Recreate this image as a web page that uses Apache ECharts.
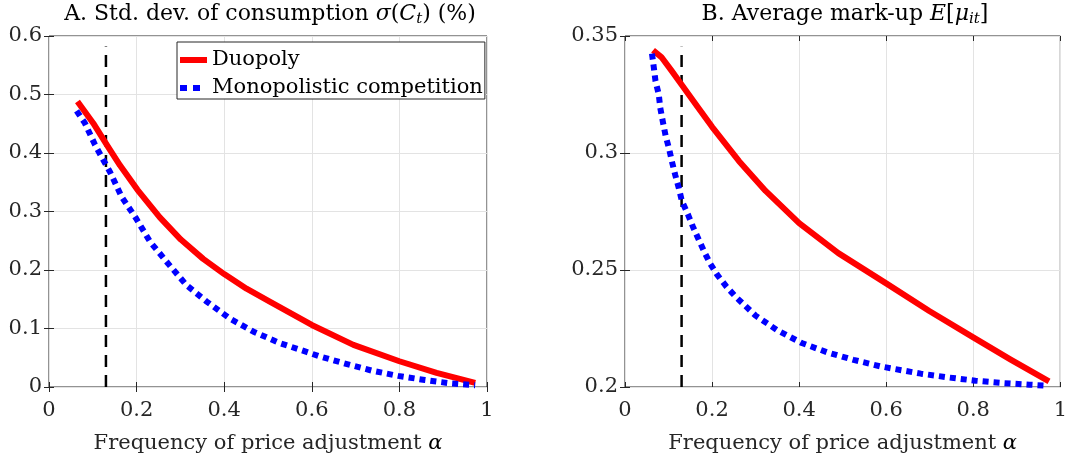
<!DOCTYPE html>
<html>
<head>
<meta charset="utf-8">
<script src="https://cdn.jsdelivr.net/npm/echarts@6/dist/echarts.min.js"></script>
<style>html,body{margin:0;padding:0;background:#fff}#c{width:1070px;height:460px}</style>
</head>
<body>
<div id="c"></div>
<script>
// ---- Data ----
const alphaDuoA = [0.065, 0.101, 0.132, 0.162, 0.202, 0.253, 0.301, 0.352, 0.4, 0.451, 0.504, 0.6, 0.695, 0.8, 0.885, 0.973];
const duopolyStd = [0.488, 0.451, 0.414, 0.379, 0.337, 0.290, 0.252, 0.219, 0.193, 0.168, 0.146, 0.106, 0.072, 0.044, 0.024, 0.007];
const alphaMonoA = [0.063, 0.082, 0.105, 0.124, 0.139, 0.166, 0.199, 0.231, 0.272, 0.314, 0.36, 0.413, 0.466, 0.527, 0.588, 0.615, 0.676, 0.737, 0.797, 0.858, 0.919, 0.973];
const monoStd = [0.472, 0.451, 0.414, 0.388, 0.368, 0.325, 0.288, 0.248, 0.211, 0.174, 0.146, 0.117, 0.095, 0.075, 0.060, 0.053, 0.040, 0.028, 0.019, 0.012, 0.006, 0.003];

const alphaDuoB = [0.0645, 0.0835, 0.106, 0.131, 0.167, 0.2, 0.262, 0.323, 0.4, 0.49, 0.6, 0.699, 0.8, 0.885, 0.974];
const duopolyMarkup = [0.3439, 0.3410, 0.3354, 0.3290, 0.3197, 0.3112, 0.2965, 0.2838, 0.2700, 0.2572, 0.2443, 0.2325, 0.2212, 0.2118, 0.2024];
const alphaMonoB = [0.062, 0.066, 0.070, 0.0775, 0.081, 0.087, 0.0934, 0.101, 0.108, 0.1154, 0.1238, 0.1306, 0.1443, 0.156, 0.169, 0.182, 0.196, 0.212, 0.233, 0.254, 0.300, 0.351, 0.406, 0.465, 0.525, 0.587, 0.619, 0.680, 0.742, 0.805, 0.867, 0.929, 0.962];
const monoMarkup = [0.3425, 0.3368, 0.3308, 0.3251, 0.3193, 0.3133, 0.3073, 0.3020, 0.2962, 0.2906, 0.2849, 0.2795, 0.2739, 0.2685, 0.2631, 0.2578, 0.2526, 0.2479, 0.2429, 0.2386, 0.2305, 0.2241, 0.2188, 0.2148, 0.2116, 0.2088, 0.2077, 0.2057, 0.2041, 0.2027, 0.2017, 0.2010, 0.2006];

const calibAlpha = 0.13;          // vertical dashed line position
const vlineA = [0, 0.582];
const vlineB = [0.2, 0.3454];

const xTicks = [0, 0.2, 0.4, 0.6, 0.8, 1];
const yTicksA = [0, 0.1, 0.2, 0.3, 0.4, 0.5, 0.6];
const yTicksB = [0.2, 0.25, 0.3, 0.35];

const seriesNames = ['Duopoly', 'Monopolistic competition'];
const titleA = 'A. Std. dev. of consumption {i|σ}({i|C}{sub|t}) (%)';
const titleB = 'B. Average mark-up {i|E}[{i|μ}{sub|it}]';
const xName = 'Frequency of price adjustment {i|α}';

// ---- Chart ----
const FONT = 'DejaVu Serif';
const FS = 21;
const TFS = 22;
const TXT = '#262626';
const zip = (xs, ys) => xs.map((x, i) => [x, ys[i]]);
const fmt = v => String(+v.toFixed(2));
const rich = (size) => ({
  i: {fontStyle: 'italic', fontFamily: FONT, fontSize: size, color: '#000'},
  sub: {fontStyle: 'italic', fontFamily: FONT, fontSize: Math.round(size * 0.7), color: '#000', padding: [Math.round(size*0.45), 0, 0, 0]}
});

const grids = [
  {left: 49, right: 583, top: 36, bottom: 73},
  {left: 625, right: 6, top: 36, bottom: 73}
];
grids.forEach(g => { g.show = true; g.borderColor = TXT; g.borderWidth = 1; g.backgroundColor = '#fff'; });

function xAx(gi, pos, main) {
  return {
    type: 'value', gridIndex: gi, position: pos, min: xTicks[0], max: xTicks[xTicks.length - 1], interval: xTicks[1] - xTicks[0],
    axisLine: {show: false},
    axisTick: {show: true, inside: true, length: 5, lineStyle: {color: TXT}},
    axisLabel: {show: main, margin: 13, fontFamily: FONT, fontSize: FS, color: TXT, formatter: fmt},
    splitLine: {show: main, lineStyle: {color: '#e3e3e3', width: 1}},
    name: main ? xName : '', nameLocation: 'middle', nameGap: 46,
    nameTextStyle: {fontFamily: FONT, fontSize: FS, color: TXT, rich: rich(FS)}
  };
}
function yAx(gi, pos, main, ticks) {
  return {
    type: 'value', gridIndex: gi, position: pos, min: ticks[0], max: ticks[ticks.length - 1],
    interval: +(ticks[1] - ticks[0]).toFixed(4),
    axisLine: {show: false},
    axisTick: {show: true, inside: true, length: 5, lineStyle: {color: TXT}},
    axisLabel: {show: main, margin: 7, fontFamily: FONT, fontSize: FS, color: TXT, formatter: fmt},
    splitLine: {show: main, lineStyle: {color: '#e3e3e3', width: 1}}
  };
}

const redStyle = {color: '#ff0000', width: 6, type: 'solid', cap: 'butt', join: 'round'};
const blueStyle = {color: '#0000ff', width: 6, type: [6, 5], cap: 'butt', join: 'round'};
const dashStyle = {color: '#000', width: 2.5, type: [12, 8]};

function line(name, xi, yi, data, ls, z) {
  return {name: name, type: 'line', xAxisIndex: xi, yAxisIndex: yi, data: data,
    showSymbol: false, symbol: 'none', smooth: false,
    lineStyle: ls, itemStyle: {color: ls.color}, z: z, silent: true, animation: false};
}

const option = {
  animation: false,
  title: [
    {text: titleA, left: 265, top: -3, textAlign: 'center',
     textStyle: {fontFamily: FONT, fontSize: TFS, fontWeight: 'normal', color: '#000', rich: rich(TFS)}},
    {text: titleB, left: 840, top: -3, textAlign: 'center',
     textStyle: {fontFamily: FONT, fontSize: TFS, fontWeight: 'normal', color: '#000', rich: rich(TFS)}}
  ],
  legend: {
    data: [
      {name: seriesNames[0], icon: 'rect'},
      {name: seriesNames[1], icon: 'path://M0,0h7v6h-7zM13,0h7v6h-7zM27,0v6'}
    ],
    orient: 'vertical', left: 177, top: 42,
    itemWidth: 27, itemHeight: 6, itemGap: 6, symbolKeepAspect: false,
    itemStyle: {borderWidth: 0},
    backgroundColor: '#fff', borderColor: TXT, borderWidth: 1, padding: [7, 2, 0, 3],
    textStyle: {fontFamily: FONT, fontSize: FS, lineHeight: 22, color: '#000'}
  },
  grid: grids,
  xAxis: [xAx(0, 'bottom', true), xAx(0, 'top', false), xAx(1, 'bottom', true), xAx(1, 'top', false)],
  yAxis: [yAx(0, 'left', true, yTicksA), yAx(0, 'right', false, yTicksA),
          yAx(1, 'left', true, yTicksB), yAx(1, 'right', false, yTicksB)],
  series: [
    {name: 'calibA', type: 'line', xAxisIndex: 0, yAxisIndex: 0, data: [[calibAlpha, vlineA[0]], [calibAlpha, vlineA[1]]],
     symbol: 'none', lineStyle: dashStyle, z: 1, silent: true},
    {name: 'calibB', type: 'line', xAxisIndex: 2, yAxisIndex: 2, data: [[calibAlpha, vlineB[0]], [calibAlpha, vlineB[1]]],
     symbol: 'none', lineStyle: dashStyle, z: 1, silent: true},
    line(seriesNames[0], 0, 0, zip(alphaDuoA, duopolyStd), redStyle, 3),
    line(seriesNames[1], 0, 0, zip(alphaMonoA, monoStd), blueStyle, 4),
    line(seriesNames[0], 2, 2, zip(alphaDuoB, duopolyMarkup), redStyle, 3),
    line(seriesNames[1], 2, 2, zip(alphaMonoB, monoMarkup), blueStyle, 4)
  ]
};
const chart = echarts.init(document.getElementById('c'), null, {renderer: 'canvas'});
chart.setOption(option);
</script>
</body>
</html>
